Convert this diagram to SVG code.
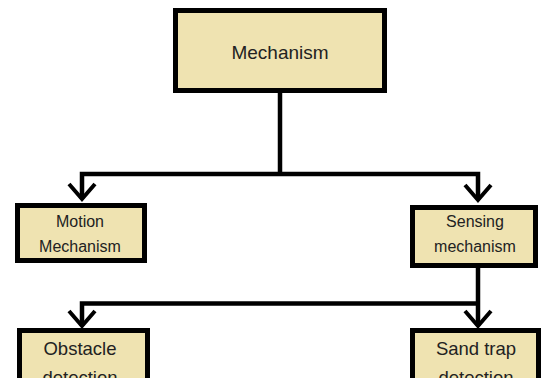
<svg xmlns="http://www.w3.org/2000/svg" width="541" height="378" viewBox="0 0 541 378">
<defs>
<style>
.box{fill:#EFE3B1;stroke:#000;stroke-width:5}
.lbl{font-family:"Liberation Sans",Arial,sans-serif;fill:#222;text-anchor:middle}
.conn{fill:none;stroke:#000;stroke-width:4.5}
</style>
<marker id="chev" markerUnits="userSpaceOnUse" markerWidth="30" markerHeight="30" refX="0" refY="0" orient="auto" overflow="visible">
<path d="M-15,-13 L0,0 L-15,13" fill="none" stroke="#000" stroke-width="4"/>
</marker>
</defs>
<rect width="541" height="378" fill="#fff"/>
<g id="connectors">
<path class="conn" d="M280,92 V174"/>
<path class="conn" d="M280,174 H82 V199" marker-end="url(#chev)"/>
<path class="conn" d="M280,174 H478 V200" marker-end="url(#chev)"/>
<path class="conn" d="M478,267 V326" marker-end="url(#chev)"/>
<path class="conn" d="M478,303.5 H82 V326" marker-end="url(#chev)"/>
</g>
<g id="mechanism">
<rect class="box" x="175.5" y="10.5" width="209" height="80"/>
<text class="lbl" x="280" y="59" font-size="19">Mechanism</text>
</g>
<g id="motion">
<rect class="box" x="17.5" y="205.5" width="127" height="55"/>
<text class="lbl" x="80" y="227" font-size="16">Motion</text>
<text class="lbl" x="80" y="252" font-size="16">Mechanism</text>
</g>
<g id="sensing">
<rect class="box" x="412.5" y="207.5" width="123" height="58"/>
<text class="lbl" x="475" y="227" font-size="16">Sensing</text>
<text class="lbl" x="475" y="252" font-size="16">mechanism</text>
</g>
<g id="obstacle">
<rect class="box" x="19.5" y="330.5" width="128" height="60"/>
<text class="lbl" x="80" y="355" font-size="18.5">Obstacle</text>
<text class="lbl" x="80" y="384" font-size="18.5">detection</text>
</g>
<g id="sandtrap">
<rect class="box" x="412.5" y="330.5" width="126" height="60"/>
<text class="lbl" x="476" y="355" font-size="18.5">Sand trap</text>
<text class="lbl" x="476" y="384" font-size="18.5">detection</text>
</g>
</svg>
